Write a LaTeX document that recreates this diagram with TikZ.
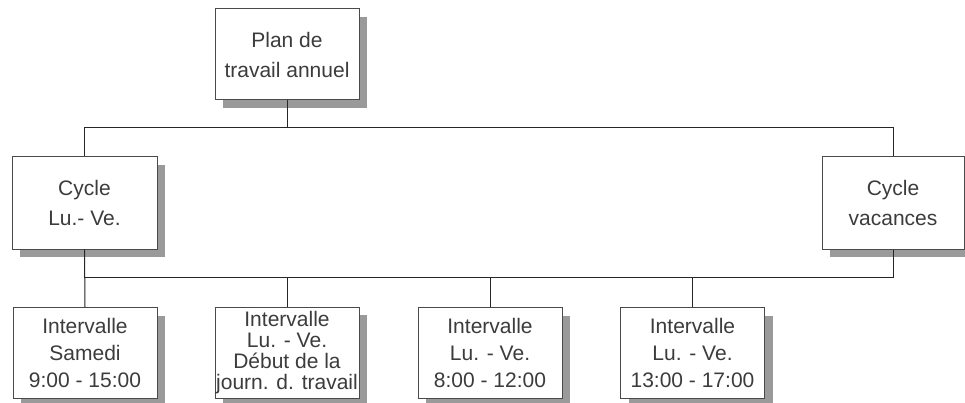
\documentclass[tikz,border=0pt]{standalone}
\usepackage{fontspec}
\setmainfont{Liberation Sans}
\usetikzlibrary{shadows}
\definecolor{txt}{HTML}{3C3C3C}
\definecolor{edge}{HTML}{4A4A4A}
\definecolor{shade}{HTML}{9A9A9A}
\tikzset{
  box/.style={draw=edge, line width=1pt, fill=white, text=txt, align=center,
    inner sep=0pt, minimum width=144pt, minimum height=91pt,
    drop shadow={shadow xshift=8pt, shadow yshift=-8pt, opacity=1, fill=shade}},
  wide/.style={font=\fontsize{21}{30}\selectfont},
  three/.style={font=\fontsize{21}{27}\selectfont},
  four/.style={font=\fontsize{21}{21}\selectfont},
  wire/.style={draw=black!85, line width=1pt}
}
\begin{document}
\begin{tikzpicture}[x=1pt,y=-1pt]
\useasboundingbox[fill=white] (0,0) rectangle (965,403);
\node[box,wide] (top) at (287,54.5) {Plan de\\travail annuel};
\node[box,wide,minimum width=145pt,minimum height=92pt] (c1) at (84.5,203) {Cycle\\Lu.- Ve.};
\node[box,wide,minimum width=142pt,minimum height=92pt] (c2) at (893,203) {Cycle\\vacances};
\node[box,three] (b1) at (85,353) {Intervalle\\Samedi\\9:00 - 15:00};
\node[box,four] (b2) at (287,352.5) {Intervalle\\Lu. - Ve.\\Début de la\\journ. d. travail};
\node[box,three] (b3) at (490,353) {Intervalle\\Lu. - Ve.\\8:00 - 12:00};
\node[box,three] (b4) at (692.5,353) {Intervalle\\Lu. - Ve.\\13:00 - 17:00};
\coordinate (busA) at (0,128);
\coordinate (busB) at (0,277);
\draw[wire] (top.south) -- (top.south |- busA);
\draw[wire] (c1.north) |- (busA -| c2.north) -- (c2.north);
\draw[wire] (c1.south) -- (b1.north);
\draw[wire] (c2.south) |- (busB -| c1.south);
\draw[wire] (busB -| b2.north) -- (b2.north);
\draw[wire] (busB -| b3.north) -- (b3.north);
\draw[wire] (busB -| b4.north) -- (b4.north);
\end{tikzpicture}
\end{document}
